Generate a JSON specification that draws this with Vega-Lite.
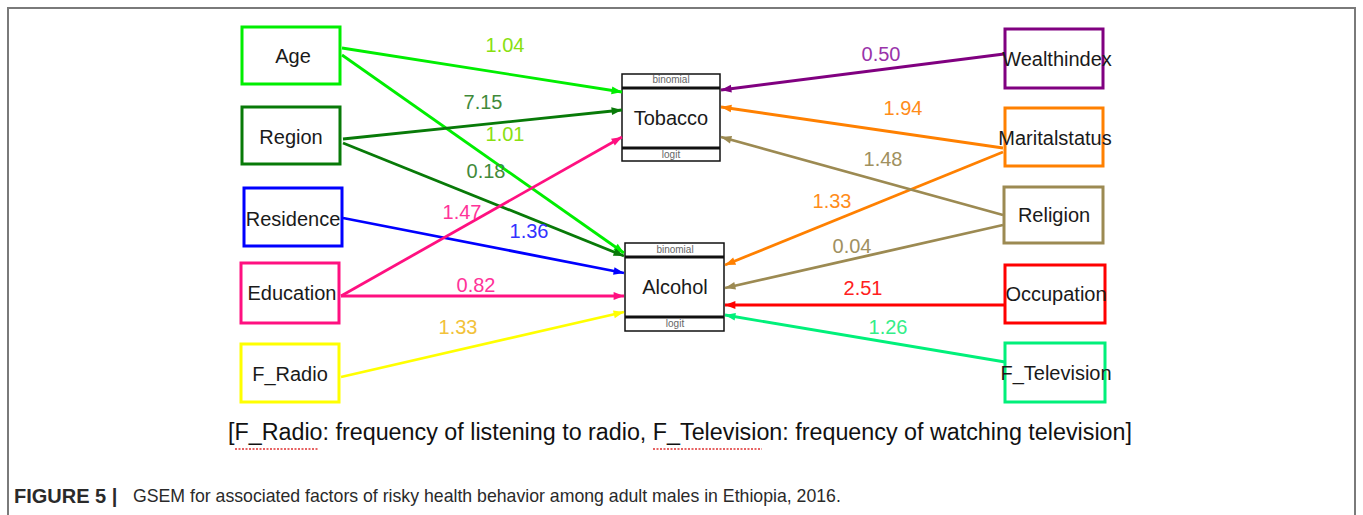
{
  "$schema": "https://vega.github.io/schema/vega-lite/v6.json",
  "width": 1363,
  "height": 515,
  "autosize": {"type": "fit", "contains": "padding"},
  "padding": 0,
  "background": "white",
  "config": {"view": {"stroke": null}},
  "datasets": {
    "frame": [{"x": 8, "x2": 1355, "y": 8, "y2": 560}],
    "nodes": [
      {"name": "Age", "x": 242, "x2": 340, "y": 27, "y2": 84, "lx": 293, "ly": 57},
      {"name": "Region", "x": 242, "x2": 340, "y": 107, "y2": 164, "lx": 291, "ly": 138},
      {"name": "Residence", "x": 244, "x2": 342, "y": 188, "y2": 246, "lx": 293, "ly": 220},
      {"name": "Education", "x": 241, "x2": 339, "y": 263, "y2": 323, "lx": 292, "ly": 294},
      {"name": "F_Radio", "x": 241, "x2": 339, "y": 344, "y2": 402, "lx": 290, "ly": 375},
      {"name": "Wealthindex", "x": 1005, "x2": 1103, "y": 29, "y2": 88, "lx": 1057, "ly": 60},
      {"name": "Maritalstatus", "x": 1005, "x2": 1103, "y": 108, "y2": 166, "lx": 1055, "ly": 139},
      {"name": "Religion", "x": 1004, "x2": 1103, "y": 187, "y2": 243, "lx": 1054, "ly": 216},
      {"name": "Occupation", "x": 1005, "x2": 1105, "y": 265, "y2": 323, "lx": 1056, "ly": 295},
      {"name": "F_Television", "x": 1005, "x2": 1105, "y": 343, "y2": 402, "lx": 1056, "ly": 374}
    ],
    "outcomes": [
      {"name": "Tobacco", "x": 622, "x2": 720, "y": 74, "y2": 161, "s1": 88, "s2": 148, "lx": 671, "ly": 119, "ty": 80, "by": 155},
      {"name": "Alcohol", "x": 625, "x2": 724, "y": 243, "y2": 331, "s1": 257, "s2": 317, "lx": 675, "ly": 288, "ty": 250, "by": 324}
    ],
    "paths": [
      {"from": "Age", "to": "Tobacco", "x": 342, "y": 48, "x2": 622, "y2": 92, "coef": "1.04", "lx": 505, "ly": 46},
      {"from": "Age", "to": "Alcohol", "x": 342, "y": 55, "x2": 624, "y2": 253, "coef": "1.01", "lx": 505, "ly": 135},
      {"from": "Region", "to": "Tobacco", "x": 343, "y": 139, "x2": 622, "y2": 110, "coef": "7.15", "lx": 483, "ly": 103},
      {"from": "Region", "to": "Alcohol", "x": 343, "y": 143, "x2": 624, "y2": 256, "coef": "0.18", "lx": 486, "ly": 172},
      {"from": "Residence", "to": "Alcohol", "x": 343, "y": 218, "x2": 624, "y2": 273, "coef": "1.36", "lx": 529, "ly": 232},
      {"from": "Education", "to": "Tobacco", "x": 341, "y": 296, "x2": 622, "y2": 137, "coef": "1.47", "lx": 462, "ly": 213},
      {"from": "Education", "to": "Alcohol", "x": 341, "y": 296, "x2": 624, "y2": 296, "coef": "0.82", "lx": 476, "ly": 286},
      {"from": "F_Radio", "to": "Alcohol", "x": 341, "y": 377, "x2": 624, "y2": 312, "coef": "1.33", "lx": 458, "ly": 328},
      {"from": "Wealthindex", "to": "Tobacco", "x": 1004, "y": 54, "x2": 721, "y2": 90, "coef": "0.50", "lx": 881, "ly": 55},
      {"from": "Maritalstatus", "to": "Tobacco", "x": 1003, "y": 148, "x2": 721, "y2": 107, "coef": "1.94", "lx": 903, "ly": 109},
      {"from": "Maritalstatus", "to": "Alcohol", "x": 1003, "y": 152, "x2": 725, "y2": 265, "coef": "1.33", "lx": 832, "ly": 202},
      {"from": "Religion", "to": "Tobacco", "x": 1003, "y": 215, "x2": 721, "y2": 137, "coef": "1.48", "lx": 883, "ly": 160},
      {"from": "Religion", "to": "Alcohol", "x": 1003, "y": 225, "x2": 725, "y2": 288, "coef": "0.04", "lx": 852, "ly": 247},
      {"from": "Occupation", "to": "Alcohol", "x": 1005, "y": 305, "x2": 725, "y2": 305, "coef": "2.51", "lx": 863, "ly": 289},
      {"from": "F_Television", "to": "Alcohol", "x": 1005, "y": 362, "x2": 725, "y2": 315, "coef": "1.26", "lx": 888, "ly": 328}
    ],
    "note": [
      {"text": "[F_Radio: frequency of listening to radio, F_Television: frequency of watching television]", "x": 680, "y": 433}
    ],
    "squiggle": [
      {"x": 235, "x2": 318, "y": 449},
      {"x": 653, "x2": 762, "y": 449}
    ],
    "figlabel": [{"text": "FIGURE 5 |", "x": 14, "y": 497}],
    "figcaption": [{"text": "GSEM for associated factors of risky health behavior among adult males in Ethiopia, 2016.", "x": 133, "y": 497}]
  },
  "layer": [
    {
      "data": {"name": "frame"},
      "mark": {"type": "rect", "filled": false, "stroke": "#7a7a7a", "strokeWidth": 2, "clip": true},
      "encoding": {
        "x": {"field": "x", "type": "quantitative", "scale": {"domain": [0, 1363], "nice": false, "zero": false}, "axis": null},
        "x2": {"field": "x2"},
        "y": {"field": "y", "type": "quantitative", "scale": {"domain": [0, 515], "nice": false, "zero": false, "reverse": true}, "axis": null},
        "y2": {"field": "y2"}
      }
    },
    {
      "data": {"name": "nodes"},
      "mark": {"type": "rect", "fill": "white", "strokeWidth": 3},
      "encoding": {
        "x": {"field": "x", "type": "quantitative", "axis": null},
        "x2": {"field": "x2"},
        "y": {"field": "y", "type": "quantitative", "axis": null},
        "y2": {"field": "y2"},
        "stroke": {
          "field": "name", "type": "nominal", "legend": null,
          "scale": {
            "domain": ["Age", "Region", "Residence", "Education", "F_Radio", "Wealthindex", "Maritalstatus", "Religion", "Occupation", "F_Television"],
            "range": ["#00ee00", "#087a08", "#0000ff", "#ff1080", "#ffff00", "#800080", "#ff8000", "#9c8a52", "#ff0000", "#00f07a"]
          }
        }
      }
    },
    {
      "data": {"name": "outcomes"},
      "mark": {"type": "rect", "fill": "white", "stroke": "#111111", "strokeWidth": 1.5},
      "encoding": {
        "x": {"field": "x", "type": "quantitative", "axis": null},
        "x2": {"field": "x2"},
        "y": {"field": "y", "type": "quantitative", "axis": null},
        "y2": {"field": "y2"}
      }
    },
    {
      "data": {"name": "outcomes"},
      "mark": {"type": "rule", "stroke": "#111111", "strokeWidth": 3},
      "encoding": {
        "x": {"field": "x", "type": "quantitative", "axis": null},
        "x2": {"field": "x2"},
        "y": {"field": "s1", "type": "quantitative", "axis": null}
      }
    },
    {
      "data": {"name": "outcomes"},
      "mark": {"type": "rule", "stroke": "#111111", "strokeWidth": 3},
      "encoding": {
        "x": {"field": "x", "type": "quantitative", "axis": null},
        "x2": {"field": "x2"},
        "y": {"field": "s2", "type": "quantitative", "axis": null}
      }
    },
    {
      "data": {"name": "paths"},
      "mark": {"type": "rule", "strokeWidth": 2.8},
      "encoding": {
        "x": {"field": "x", "type": "quantitative", "axis": null},
        "y": {"field": "y", "type": "quantitative", "axis": null},
        "x2": {"field": "x2"},
        "y2": {"field": "y2"},
        "stroke": {"field": "from", "type": "nominal", "legend": null}
      }
    },
    {
      "data": {"name": "paths"},
      "transform": [
        {"calculate": "atan2(datum.x2 - datum.x, -(datum.y2 - datum.y)) * 180 / PI", "as": "angle"}
      ],
      "mark": {"type": "point", "filled": true, "shape": "M0,0L-0.6,1.6L0.6,1.6Z", "size": 169, "opacity": 1, "strokeWidth": 0},
      "encoding": {
        "x": {"field": "x2", "type": "quantitative", "axis": null},
        "y": {"field": "y2", "type": "quantitative", "axis": null},
        "angle": {"field": "angle", "type": "quantitative", "scale": null},
        "fill": {
          "field": "from", "type": "nominal", "legend": null,
          "scale": {
            "domain": ["Age", "Region", "Residence", "Education", "F_Radio", "Wealthindex", "Maritalstatus", "Religion", "Occupation", "F_Television"],
            "range": ["#00ee00", "#087a08", "#0000ff", "#ff1080", "#ffff00", "#800080", "#ff8000", "#9c8a52", "#ff0000", "#00f07a"]
          }
        }
      }
    },
    {
      "data": {"name": "paths"},
      "mark": {"type": "text", "font": "Liberation Sans", "fontSize": 20, "baseline": "middle", "align": "center"},
      "encoding": {
        "x": {"field": "lx", "type": "quantitative", "axis": null},
        "y": {"field": "ly", "type": "quantitative", "axis": null},
        "text": {"field": "coef"},
        "color": {
          "field": "from", "type": "nominal", "legend": null,
          "scale": {
            "domain": ["Age", "Region", "Residence", "Education", "F_Radio", "Wealthindex", "Maritalstatus", "Religion", "Occupation", "F_Television"],
            "range": ["#88e010", "#3f8a3a", "#3333ff", "#ff3399", "#f2c23a", "#9933aa", "#ff8c1a", "#a09060", "#ff2020", "#33ee88"]
          }
        }
      }
    },
    {
      "data": {"name": "nodes"},
      "mark": {"type": "text", "font": "Liberation Sans", "fontSize": 20, "baseline": "middle", "align": "center", "color": "#1a1a1a"},
      "encoding": {
        "x": {"field": "lx", "type": "quantitative", "axis": null},
        "y": {"field": "ly", "type": "quantitative", "axis": null},
        "text": {"field": "name"}
      }
    },
    {
      "data": {"name": "outcomes"},
      "mark": {"type": "text", "font": "Liberation Sans", "fontSize": 20, "baseline": "middle", "align": "center", "color": "#1a1a1a"},
      "encoding": {
        "x": {"field": "lx", "type": "quantitative", "axis": null},
        "y": {"field": "ly", "type": "quantitative", "axis": null},
        "text": {"field": "name"}
      }
    },
    {
      "data": {"name": "outcomes"},
      "mark": {"type": "text", "font": "Liberation Sans", "fontSize": 10, "baseline": "middle", "align": "center", "color": "#666666", "text": "binomial"},
      "encoding": {
        "x": {"field": "lx", "type": "quantitative", "axis": null},
        "y": {"field": "ty", "type": "quantitative", "axis": null}
      }
    },
    {
      "data": {"name": "outcomes"},
      "mark": {"type": "text", "font": "Liberation Sans", "fontSize": 10, "baseline": "middle", "align": "center", "color": "#666666", "text": "logit"},
      "encoding": {
        "x": {"field": "lx", "type": "quantitative", "axis": null},
        "y": {"field": "by", "type": "quantitative", "axis": null}
      }
    },
    {
      "data": {"name": "note"},
      "mark": {"type": "text", "font": "Liberation Sans", "fontSize": 23.3, "baseline": "middle", "align": "center", "color": "#111111"},
      "encoding": {
        "x": {"field": "x", "type": "quantitative", "axis": null},
        "y": {"field": "y", "type": "quantitative", "axis": null},
        "text": {"field": "text"}
      }
    },
    {
      "data": {"name": "squiggle"},
      "mark": {"type": "rule", "stroke": "#e03030", "strokeWidth": 1.5, "strokeDash": [2, 1.5]},
      "encoding": {
        "x": {"field": "x", "type": "quantitative", "axis": null},
        "x2": {"field": "x2"},
        "y": {"field": "y", "type": "quantitative", "axis": null}
      }
    },
    {
      "data": {"name": "figlabel"},
      "mark": {"type": "text", "font": "Liberation Sans", "fontSize": 20, "fontWeight": "bold", "baseline": "middle", "align": "left", "color": "#2a2a2a"},
      "encoding": {
        "x": {"field": "x", "type": "quantitative", "axis": null},
        "y": {"field": "y", "type": "quantitative", "axis": null},
        "text": {"field": "text"}
      }
    },
    {
      "data": {"name": "figcaption"},
      "mark": {"type": "text", "font": "Liberation Sans", "fontSize": 17.7, "baseline": "middle", "align": "left", "color": "#2a2a2a"},
      "encoding": {
        "x": {"field": "x", "type": "quantitative", "axis": null},
        "y": {"field": "y", "type": "quantitative", "axis": null},
        "text": {"field": "text"}
      }
    }
  ]
}
